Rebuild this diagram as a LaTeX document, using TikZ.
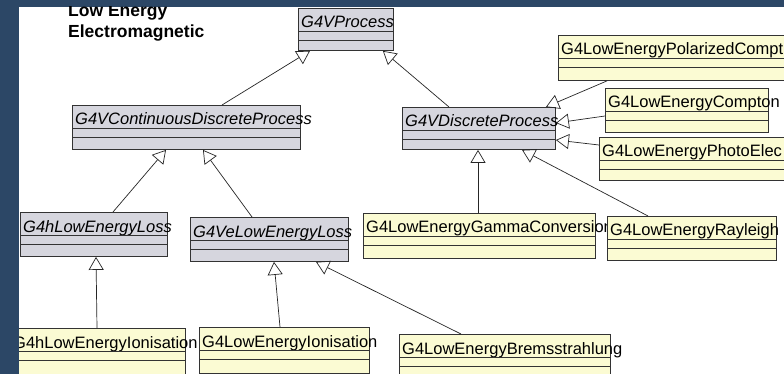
\documentclass[tikz,border=0pt]{standalone}
\usepackage{fontspec}
\setmainfont{Liberation Sans}
\usepackage{tikz}
\usetikzlibrary{arrows.meta}
\usetikzlibrary{calc}
\definecolor{frameblue}{HTML}{2C4766}
\definecolor{absgray}{HTML}{D6D6DE}
\definecolor{concyellow}{HTML}{FBFBD3}
\tikzset{
	class box/.style={draw=black!80,line width=0.9pt,anchor=north west,inner sep=0pt},
	abstract/.style={class box,fill=absgray},
	concrete/.style={class box,fill=concyellow},
	class name/.style={anchor=base west,inner sep=0pt,font=\fontsize{16.5}{19}\selectfont},
	heading/.style={anchor=base west,inner sep=0pt,font=\fontsize{17.5}{21}\selectfont\bfseries},
	inherit/.style={draw=black!85,line width=0.7pt,-{Triangle[open,length=13pt,width=15pt]}}
}
% style, name, x, y, width, height, text
\newcommand{\umlclass}[7]{%
	\node[#1,minimum width=#5pt,minimum height=#6pt] (#2) at (#3,#4) {};
	\node[class name] (#2-t) at ($(#2.north west)+(3,20)$) {#7};
	\draw[black!80,line width=0.6pt] ($(#2.north west)+(0,23)$) -- ($(#2.north east)+(0,23)$);
	\draw[black!80,line width=0.9pt] ($(#2.north west)+(0,32)$) -- ($(#2.north east)+(0,32)$);
}

\begin{document}
\begin{tikzpicture}[x=1pt,y=-1pt]
	\useasboundingbox (0,0) rectangle (784,374);
	\fill[frameblue] (0,0) rectangle (784,374);
	\begin{scope}
	\clip (19,7) rectangle (784,374);
	\fill[white] (19,7) rectangle (784,374);
	\node[heading] (lbl1) at (68,17) {Low Energy};
	\node[heading] (lbl2) at (68,38) {Electromagnetic};

	\umlclass{abstract}{proc}{298}{8}{95}{42}{\textit{G4VProcess}}
	\umlclass{abstract}{cdp}{72}{105}{228}{44}{\textit{G4VContinuousDiscreteProcess}}
	\umlclass{abstract}{dp}{402}{107}{153}{42}{\textit{G4VDiscreteProcess}}
	\umlclass{concrete}{polc}{558}{35}{240}{45}{G4LowEnergyPolarizedCompt}
	\umlclass{concrete}{comp}{605}{88}{163}{44}{G4LowEnergyCompton}
	\umlclass{concrete}{phot}{599}{137}{195}{43}{G4LowEnergyPhotoElec}
	\umlclass{abstract}{hloss}{20}{212}{147}{44}{\textit{G4hLowEnergyLoss}}
	\umlclass{abstract}{veloss}{190}{217}{158}{44}{\textit{G4VeLowEnergyLoss}}
	\umlclass{concrete}{gconv}{363}{213}{232}{45}{G4LowEnergyGammaConversion}
	\umlclass{concrete}{rayl}{607}{216}{169}{44}{G4LowEnergyRayleigh}
	\umlclass{concrete}{hion}{10}{328}{175}{50}{G4hLowEnergyIonisation}
	\umlclass{concrete}{ion}{199}{327}{170}{46}{G4LowEnergyIonisation}
	\umlclass{concrete}{brem}{399}{334}{211}{45}{G4LowEnergyBremsstrahlung}

	\draw[inherit] ($(cdp.north west)+(150,0)$) -- ($(proc.south west)+(12,0)$);
	\draw[inherit] ($(dp.north west)+(47,0)$) -- ($(proc.south east)+(-11,0)$);
	\draw[inherit] ($(polc.south west)+(49,0)$) -- ($(dp.north east)+(-10,0)$);
	\draw[inherit] ($(comp.north west)+(0,28)$) -- ($(dp.north east)+(0,16)$);
	\draw[inherit] ($(phot.north west)+(0,8)$) -- ($(dp.north east)+(0,33)$);
	\draw[inherit] ($(gconv.north west)+(115,0)$) -- ($(dp.south west)+(76,0)$);
	\draw[inherit] ($(rayl.north west)+(41,0)$) -- ($(dp.south west)+(120,0)$);
	\draw[inherit] ($(hloss.north west)+(93,0)$) -- ($(cdp.south west)+(94,0)$);
	\draw[inherit] ($(veloss.north west)+(62,0)$) -- ($(cdp.south west)+(131,0)$);
	\draw[inherit] ($(hion.north west)+(87,0)$) -- ($(hloss.south west)+(76,0)$);
	\draw[inherit] ($(ion.north west)+(81,0)$) -- ($(veloss.south west)+(84,0)$);
	\draw[inherit] ($(brem.north west)+(62,0)$) -- ($(veloss.south west)+(126,0)$);
	\end{scope}
\end{tikzpicture}
\end{document}
